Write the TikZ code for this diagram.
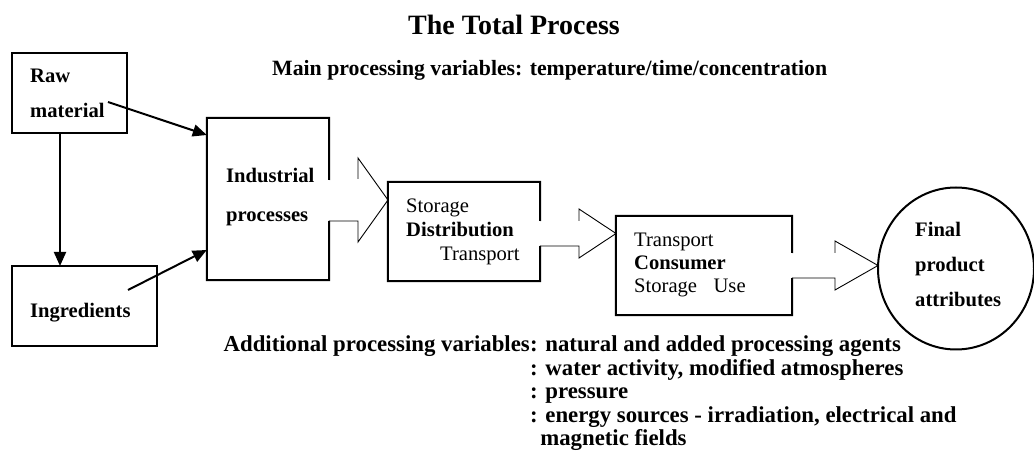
\documentclass[tikz,border=0pt]{standalone}
\usepackage{fontspec}
\setmainfont{Liberation Serif}
\usetikzlibrary{arrows.meta,shapes.geometric}
\begin{document}
\begin{tikzpicture}[x=1pt,y=-1pt,
  lbl/.style={anchor=base west, inner sep=0pt, font=\fontsize{20.6}{24.5}\selectfont\bfseries},
  rlbl/.style={anchor=base west, inner sep=0pt, font=\fontsize{20.6}{24.5}\selectfont},
  addfont/.style={inner sep=0pt, font=\fontsize{22.8}{23.5}\selectfont\bfseries},
  box/.style={draw, line width=2pt, rectangle, inner sep=0pt},
  plainbox/.style={rectangle, inner sep=0pt},
  thickline/.style={line width=2pt},
  blockarrow/.style={line width=0.9pt, line join=miter},
  arr/.style={line width=2pt, -{Triangle[length=14pt,width=12pt]}},
]
\useasboundingbox (0,0) rectangle (1034,462);

% title and main variables
\node[anchor=base, inner sep=0pt, font=\fontsize{28}{32}\selectfont\bfseries] (title) at (514,35) {The Total Process};
\node[anchor=base west, inner sep=0pt, font=\fontsize{21.8}{25}\selectfont\bfseries] (mainvar) at (272,76) {Main processing variables: temperature/time/concentration};

% raw material and ingredients
\node[box, minimum width=115pt, minimum height=80pt] (raw) at (69.5,93) {};
\node[lbl] (rawt1) at (30,83) {Raw};
\node[lbl] (rawt2) at (30,118) {material};
\node[box, minimum width=145pt, minimum height=80pt] (ing) at (84.5,306) {};
\node[lbl] (ingt) at (30,318) {Ingredients};

% industrial processes
\node[plainbox, minimum width=122pt, minimum height=162pt] (ind) at (268,199) {};
\coordinate (indgapT) at (329,180);
\coordinate (indgapB) at (329,221);
\draw[thickline] (indgapT) -- (ind.north east) -- (ind.north west) -- (ind.south west) -- (ind.south east) -- (indgapB);
\node[lbl] (indt1) at (226,183) {Industrial};
\node[lbl] (indt2) at (226,222) {processes};

% distribution
\node[plainbox, minimum width=152pt, minimum height=99pt] (dist) at (464,231.5) {};
\coordinate (distgapT) at (540,221);
\coordinate (distgapB) at (540,246);
\draw[thickline] (distgapT) -- (dist.north east) -- (dist.north west) -- (dist.south west) -- (dist.south east) -- (distgapB);
\node[rlbl] (distt1) at (406,213) {Storage};
\node[lbl] (distt2) at (406,237) {Distribution};
\node[rlbl] (distt3) at (440,261) {Transport};

% consumer
\node[plainbox, minimum width=176pt, minimum height=99pt] (cons) at (704,265.5) {};
\coordinate (consgapT) at (792,253);
\coordinate (consgapB) at (792,278);
\draw[thickline] (consgapT) -- (cons.north east) -- (cons.north west) -- (cons.south west) -- (cons.south east) -- (consgapB);
\node[rlbl] (const1) at (634,247) {Transport};
\node[lbl] (const2) at (634,270) {Consumer};
\node[rlbl] (const3) at (634,293) {Storage\hspace{0.8em}Use};

% final product
\node[draw, line width=2pt, ellipse, minimum width=156pt, minimum height=162pt, inner sep=0pt] (final) at (956,268.5) {};
\node[lbl] (fint1) at (915,237) {Final};
\node[lbl] (fint2) at (915,272) {product};
\node[lbl] (fint3) at (915,307) {attributes};

% block arrows
\draw[blockarrow] (indgapB) -- (358,221) -- (358,242) -- (388,200) -- (358,158) -- (358,179);
\draw[blockarrow] (distgapB) -- (579,246) -- (579,258) -- (616,233.5) -- (579,209) -- (579,221);
\draw[blockarrow] (consgapB) -- (835,278) -- (835,290) -- (878,265.5) -- (835,241) -- (835,253);

% plain arrows
\coordinate (rawout) at (108,102);
\coordinate (ingout) at (128,290);
\draw[arr] (rawout) -- (ind.west |- 0,135);
\draw[arr] (ingout) -- (ind.west |- 0,250);
\draw[arr] (60,133) -- (60,266);

% additional variables
\node[addfont, anchor=base east] (addvar) at (530,352) {Additional processing variables};
\node[addfont, anchor=base west] (addlist) at (530,352) {%
\begin{tabular}[t]{@{}l@{}}
: natural and added processing agents\\
: water activity, modified atmospheres\\
: pressure\\
: energy sources - irradiation, electrical and\\
\phantom{:}\hspace{2.5pt}magnetic fields
\end{tabular}};
\end{tikzpicture}
\end{document}
